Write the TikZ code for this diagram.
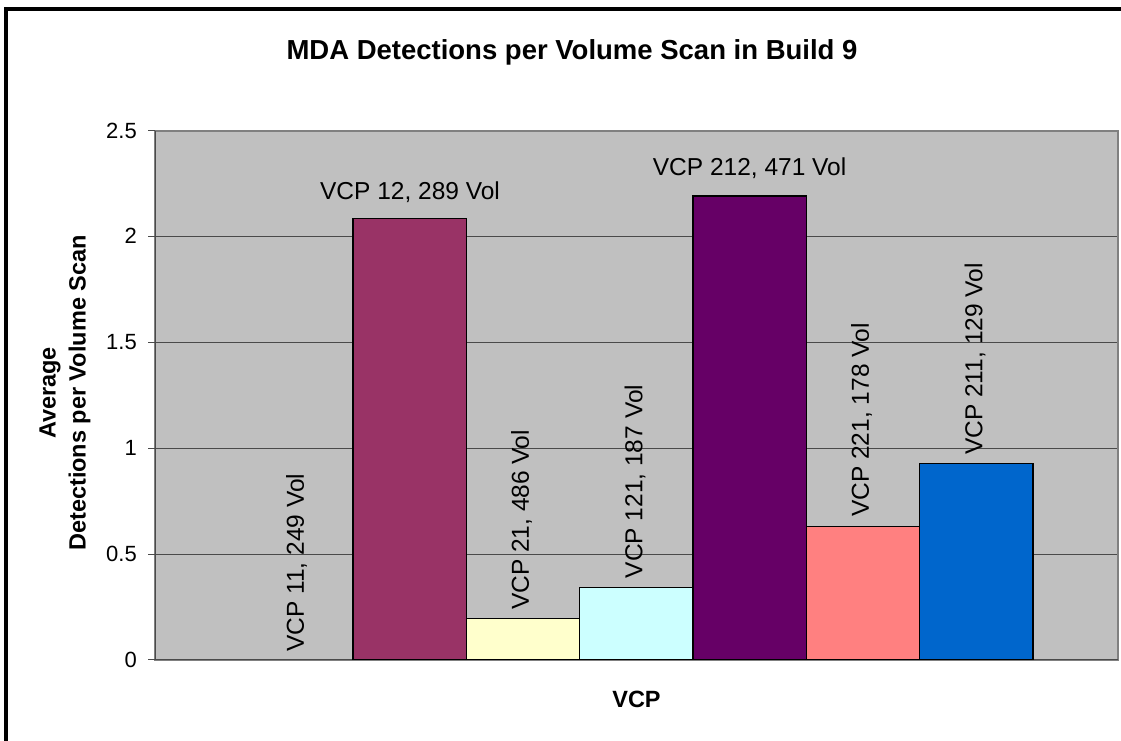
\documentclass[tikz,border=0pt]{standalone}
\usepackage{fontspec}
\setmainfont{Liberation Sans}
\definecolor{plotgray}{HTML}{C0C0C0}
\definecolor{plotedge}{HTML}{808080}
\definecolor{gridc}{HTML}{4A4A4A}
\definecolor{cA}{HTML}{993366}
\definecolor{cB}{HTML}{FFFFCC}
\definecolor{cC}{HTML}{CCFFFF}
\definecolor{cD}{HTML}{660066}
\definecolor{cE}{HTML}{FF8080}
\definecolor{cF}{HTML}{0066CC}
\begin{document}
\begin{tikzpicture}[x=1pt,y=-1pt,
  barbox/.style={draw=black, line width=1.5pt},
  gridline/.style={draw=gridc, line width=1pt},
  dlabel/.style={font=\fontsize{24.5}{28}\selectfont, inner sep=0pt},
  vlabel/.style={dlabel, rotate=90, anchor=west},
  ticklabel/.style={font=\fontsize{22}{26}\selectfont, inner sep=0pt, anchor=east},
  axtitle/.style={font=\fontsize{23.5}{30}\selectfont\bfseries, inner sep=0pt}]
\useasboundingbox (0,0) rectangle (1121,740);
\fill[white] (0,0) rectangle (1121,740);
% outer chart border
\draw[line width=4pt] (6,9) rectangle (1140,760);
% title
\node[font=\fontsize{27.5}{32}\selectfont\bfseries, inner sep=0pt] (title) at (572,52) {MDA Detections per Volume Scan in Build 9};
% plot area
\fill[plotgray] (155,130.5) rectangle (1118,659.5);
\foreach \yy in {130.5,236,342.5,448,554} {\draw[gridline] (155,\yy) -- (1118,\yy);}
\draw[plotedge, line width=2pt] (155,130.5) rectangle (1118,659.5);
\draw[gridc, line width=1pt] (155,130.5) -- (155,659.5) -- (1118,659.5);
\foreach \yy in {130.5,236,342.5,448,554,659.5} {\draw[gridc, line width=1pt] (148,\yy) -- (155,\yy);}
% tick labels
\node[ticklabel] (t0) at (137,659.5) {0};
\node[ticklabel] (t05) at (137,554) {0.5};
\node[ticklabel] (t1) at (137,448) {1};
\node[ticklabel] (t15) at (137,342.5) {1.5};
\node[ticklabel] (t2) at (137,236) {2};
\node[ticklabel] (t25) at (137,130.5) {2.5};
% bars
\draw[barbox, fill=cA] (353,659.5) rectangle (466.3,218.3);
\draw[barbox, fill=cB] (466.3,659.5) rectangle (579.7,618.3);
\draw[barbox, fill=cC] (579.7,659.5) rectangle (693,587.7);
\draw[barbox, fill=cD] (693,659.5) rectangle (806.3,196);
\draw[barbox, fill=cE] (806.3,659.5) rectangle (919.7,526.7);
\draw[barbox, fill=cF] (919.7,659.5) rectangle (1033,463.3);
% data labels
\node[vlabel] (l11) at (296.5,652) {VCP 11, 249 Vol};
\node[dlabel, anchor=base] (l12) at (410,199) {VCP 12, 289 Vol};
\node[vlabel] (l21) at (521.5,610) {VCP 21, 486 Vol};
\node[vlabel] (l121) at (635,578.5) {VCP 121, 187 Vol};
\node[dlabel, anchor=base] (l212) at (749.6,175) {VCP 212, 471 Vol};
\node[vlabel] (l221) at (861.5,517) {VCP 221, 178 Vol};
\node[vlabel] (l211) at (975,455) {VCP 211, 129 Vol};
% axis titles
\node[axtitle, rotate=90, align=center] (ytitle) at (65,393) {Average\\Detections per Volume Scan};
\node[axtitle] (xtitle) at (636.5,699) {VCP};
\end{tikzpicture}
\end{document}
